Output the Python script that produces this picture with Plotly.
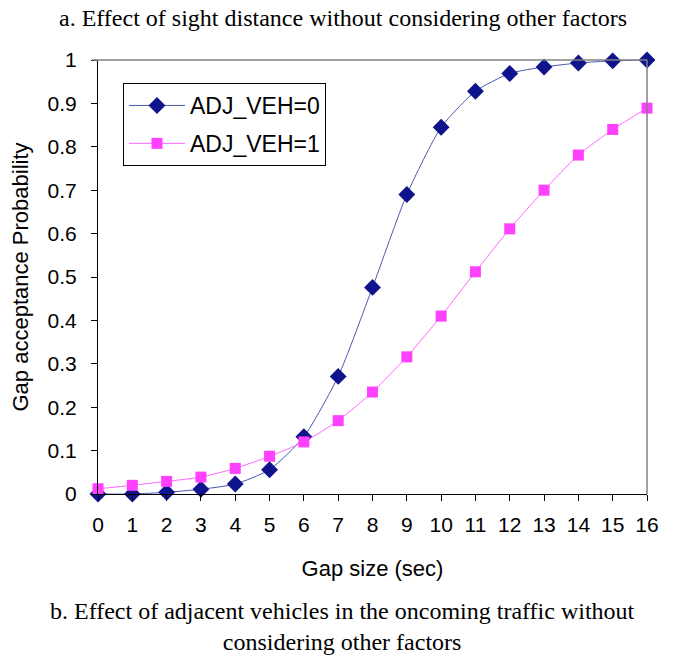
import plotly.graph_objects as go

gap = list(range(0, 17))
adj0 = [0.0, 0.0, 0.004, 0.011, 0.023, 0.056, 0.132, 0.271, 0.476, 0.69, 0.845, 0.928, 0.969, 0.984, 0.993, 0.998, 1.0]
adj1 = [0.012, 0.02, 0.029, 0.039, 0.059, 0.087, 0.12, 0.169, 0.235, 0.316, 0.41, 0.512, 0.611, 0.70, 0.781, 0.84, 0.889]
yticks = [0, 0.1, 0.2, 0.3, 0.4, 0.5, 0.6, 0.7, 0.8, 0.9, 1]
ytick_text = ["0", "0.1", "0.2", "0.3", "0.4", "0.5", "0.6", "0.7", "0.8", "0.9", "1"]

fig = go.Figure()
fig.add_trace(go.Scatter(
    x=gap, y=adj0, name="ADJ_VEH=0", mode="lines+markers", legendgroup="a",
    line=dict(color="#4b57b0", width=1, shape="spline", smoothing=0.6),
    marker=dict(symbol="diamond", size=13, color="#10148c"),
    cliponaxis=False))
fig.add_trace(go.Scatter(
    x=gap, y=adj1, name="ADJ_VEH=1", mode="lines+markers", legendgroup="b",
    line=dict(color="#ff66ff", width=1, shape="spline", smoothing=0.6),
    marker=dict(symbol="square", size=11, color="#ff40ff"),
    cliponaxis=False))

fig.update_layout(
    width=673, height=656,
    margin=dict(l=98, r=26, t=60, b=162),
    paper_bgcolor="white", plot_bgcolor="white",
    font=dict(family="Liberation Sans, Arial", color="black"),
    showlegend=True,
    legend=dict(x=0.0455, y=0.947, xanchor="left", yanchor="top",
                bordercolor="black", borderwidth=1, bgcolor="white",
                font=dict(size=23, family="Liberation Sans, Arial"),
                itemwidth=56, tracegroupgap=5, traceorder="grouped"),
    xaxis=dict(range=[0, 16], tickmode="array", tickvals=gap,
               ticks="outside", ticklen=6, tickcolor="black",
               showline=True, linecolor="black", linewidth=1,
               showgrid=False, zeroline=False,
               tickfont=dict(size=21), ticklabelstandoff=6,
               title=dict(text="Gap size (sec)", font=dict(size=22), standoff=25)),
    yaxis=dict(range=[0, 1], tickmode="array", tickvals=yticks, ticktext=ytick_text,
               ticks="outside", ticklen=6, tickcolor="black",
               showline=True, linecolor="black", linewidth=1,
               showgrid=False, zeroline=False,
               tickfont=dict(size=21), ticklabelstandoff=10,
               title=dict(text="Gap acceptance Probability", font=dict(size=22), standoff=12)),
    shapes=[
        dict(type="line", xref="paper", yref="paper", x0=-0.011, x1=1, y0=1, y1=1,
             line=dict(color="#808080", width=1.5)),
        dict(type="line", xref="paper", yref="paper", x0=1, x1=1, y0=0, y1=1,
             line=dict(color="#808080", width=1.5)),
    ],
    annotations=[
        dict(text="a. Effect of sight distance without considering other factors",
             xref="paper", yref="paper", x=0.446, y=1.0, yshift=42, showarrow=False,
             xanchor="center", yanchor="middle",
             font=dict(family="Liberation Serif, Times New Roman", size=24)),
        dict(text="b. Effect of adjacent vehicles in the oncoming traffic without<br>considering other factors",
             xref="paper", yref="paper", x=0.446, y=0, yshift=-132, showarrow=False,
             xanchor="center", yanchor="middle", align="center",
             font=dict(family="Liberation Serif, Times New Roman", size=24)),
    ],
)

fig.write_html("out.html")
